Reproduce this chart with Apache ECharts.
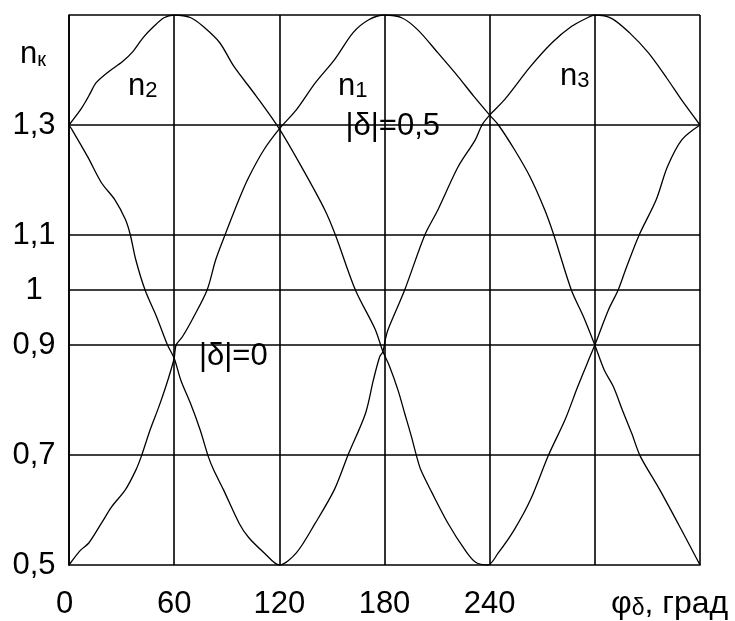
<!DOCTYPE html>
<html>
<head>
<meta charset="utf-8">
<script src="https://cdn.jsdelivr.net/npm/echarts@6/dist/echarts.min.js"></script>
<style>
  html, body { margin: 0; padding: 0; background: #fff; }
  #chart { width: 735px; height: 621px; }
</style>
</head>
<body>
<div id="chart"></div>
<script>
// Coefficient n_k of the three phases versus the angle φδ (degrees).
// Each curve is a list of [φδ, n] readings.
const curveN1 = [
  [0, 0.5], [6.6, 0.527], [11.3, 0.540], [18.5, 0.576], [24.4, 0.606], [32.2, 0.637],
  [38.2, 0.673], [41.3, 0.698], [46.3, 0.746], [51.3, 0.788], [55.2, 0.824], [58.2, 0.855],
  [60, 0.876], [61.1, 0.9], [64.7, 0.915], [71.1, 0.951], [78.8, 1.0], [83.7, 1.055],
  [89, 1.1], [96.9, 1.164], [102.4, 1.204], [111.2, 1.255], [120, 1.293], [129.8, 1.328],
  [140.6, 1.377], [151.5, 1.419], [162.1, 1.468], [170.8, 1.491], [180, 1.5], [189.8, 1.495],
  [199, 1.473], [210.5, 1.431], [222, 1.388], [231, 1.352], [240, 1.318], [245, 1.3],
  [254.2, 1.255], [263, 1.206], [271.4, 1.146], [276.6, 1.1], [286.6, 1.0], [293.6, 0.951],
  [300, 0.9], [305.3, 0.855], [310.6, 0.824], [315.8, 0.781], [321.1, 0.739], [325.9, 0.698],
  [337, 0.637], [349.4, 0.564], [360, 0.5]
];
const curveN2 = [
  [0, 1.3], [6.6, 1.328], [10.1, 1.346], [12, 1.357], [15.5, 1.377], [22.6, 1.397],
  [30.4, 1.415], [36.3, 1.433], [42.3, 1.459], [48.3, 1.479], [54.2, 1.495], [60, 1.5],
  [69.5, 1.495], [76.6, 1.479], [85.9, 1.45], [94, 1.407], [106.7, 1.353], [120, 1.293],
  [133, 1.222], [145.9, 1.146], [152, 1.1], [163.4, 1.0], [174.6, 0.929], [179.1, 0.888],
  [182.9, 0.861], [187.7, 0.818], [191.5, 0.776], [195.4, 0.733], [198.3, 0.698], [200.7, 0.673],
  [207, 0.632], [216.2, 0.576], [226, 0.527], [232, 0.505], [239, 0.5], [244.7, 0.521],
  [254, 0.564], [263.2, 0.618], [273.6, 0.7], [283, 0.764], [290.2, 0.824], [295.7, 0.867],
  [300, 0.9], [307.8, 0.964], [313.3, 1.0], [317.9, 1.04], [325.3, 1.1], [335, 1.164],
  [341.4, 1.224], [349.6, 1.273], [360, 1.3]
];
const curveN3 = [
  [0, 1.3], [1.8, 1.291], [10.7, 1.242], [18.5, 1.195], [26.2, 1.164], [32.2, 1.128],
  [35, 1.1], [38.1, 1.055], [43.4, 1.0], [50, 0.951], [56.2, 0.9], [60, 0.876],
  [63.8, 0.836], [69.3, 0.794], [74.8, 0.746], [79.4, 0.698], [82.5, 0.673], [88.1, 0.637],
  [97.2, 0.575], [102.5, 0.55], [111.4, 0.522], [120, 0.5], [129.7, 0.522], [140.5, 0.576],
  [151.4, 0.637], [159.2, 0.7], [169.2, 0.776], [173.7, 0.837], [177.3, 0.879], [179.1, 0.888],
  [180.4, 0.909], [181.9, 0.927], [191.5, 1.0], [203, 1.1], [210.5, 1.146], [222, 1.224],
  [231.8, 1.273], [235.6, 1.3], [240, 1.318], [248.5, 1.346], [263.2, 1.406], [275.7, 1.45],
  [286.6, 1.479], [295.8, 1.495], [300, 1.5], [309.5, 1.494], [320, 1.467], [330.6, 1.431],
  [341.1, 1.385], [349.4, 1.346], [360, 1.3]
];

// Labelled ticks and horizontal reference levels
const xTickLabels = [0, 60, 120, 180, 240];
const yTickLabels = [0.5, 0.7, 0.9, 1, 1.1, 1.3];
const nLevels = [0.7, 0.9, 1, 1.1, 1.3];

const FONT = '"Liberation Sans", Arial, sans-serif';
const INK = '#000';

const chart = echarts.init(document.getElementById('chart'), null, { renderer: 'canvas' });

function lineSeries(name, data, extra) {
  return Object.assign({
    name: name,
    type: 'line',
    data: data,
    smooth: 0.3,
    showSymbol: false,
    symbol: 'none',
    silent: true,
    lineStyle: { color: INK, width: 1.3 },
    z: 3
  }, extra || {});
}

function richText(x, y, parts, size, subSize) {
  // parts: array of [styleKey, text]; 'm' is normal text, 's' a subscript
  size = size || 31;
  subSize = subSize || 22;
  return {
    type: 'text',
    x: x,
    y: y,
    silent: true,
    z: 10,
    style: {
      text: parts.map(p => '{' + p[0] + '|' + p[1] + '}').join(''),
      align: 'left',
      verticalAlign: 'top',
      rich: {
        m: { fontSize: size, fontFamily: FONT, lineHeight: size, fill: INK, color: INK },
        s: { fontSize: subSize, fontFamily: FONT, lineHeight: 18, verticalAlign: 'bottom', fill: INK, color: INK }
      }
    }
  };
}

const option = {
  animation: false,
  backgroundColor: '#fff',
  grid: { left: 69, right: 35, top: 15, bottom: 56, outerBoundsMode: 'none', show: false },
  xAxis: {
    type: 'value',
    min: 0,
    max: 360,
    interval: 60,
    axisLine: { show: true, lineStyle: { color: INK, width: 1.6 } },
    axisTick: { show: false },
    splitLine: { show: true, lineStyle: { color: INK, width: 1.6, type: 'solid' } },
    axisLabel: {
      show: true,
      margin: 24,
      color: INK,
      fontSize: 31,
      lineHeight: 31,
      fontFamily: FONT,
      formatter: function (v) {
        if (xTickLabels.indexOf(v) < 0) return '';
        return v === 0 ? '{z|0}' : String(v);
      },
      rich: { z: { fontSize: 31, lineHeight: 31, fontFamily: FONT, color: INK, padding: [0, 9, 0, 0] } }
    }
  },
  yAxis: {
    type: 'value',
    min: 0.5,
    max: 1.5,
    interval: 0.1,
    axisLine: { show: true, lineStyle: { color: INK, width: 1.6 } },
    axisTick: { show: false },
    splitLine: { show: false },
    axisLabel: {
      show: true,
      margin: 35,
      align: 'center',
      color: INK,
      fontSize: 31,
      fontFamily: FONT,
      formatter: function (v) {
        const r = Math.round(v * 10) / 10;
        if (yTickLabels.indexOf(r) < 0) return '';
        return String(r).replace('.', ',');
      }
    }
  },
  series: [
    lineSeries('n1', curveN1, {
      markLine: {
        silent: true,
        symbol: ['none', 'none'],
        label: { show: false },
        lineStyle: { color: INK, width: 1.6, type: 'solid' },
        emphasis: { disabled: true },
        data: nLevels.concat([1.5]).map(v => ({ yAxis: v }))
      }
    }),
    lineSeries('n2', curveN2),
    lineSeries('n3', curveN3)
  ],
  graphic: [
    richText(20, 39, [['m', 'n'], ['s', 'к']], 31, 20),
    richText(128, 71, [['m', 'n'], ['s', '2']]),
    richText(338, 70.5, [['m', 'n'], ['s', '1']]),
    richText(560, 61, [['m', 'n'], ['s', '3']]),
    richText(345.5, 110.5, [['m', '|δ|=0,5']]),
    richText(199, 341, [['m', '|δ|=0']]),
    richText(611, 588, [['m', 'φ'], ['s', 'δ'], ['m', ', град']], 32, 23)
  ]
};

chart.setOption(option);
</script>
</body>
</html>
